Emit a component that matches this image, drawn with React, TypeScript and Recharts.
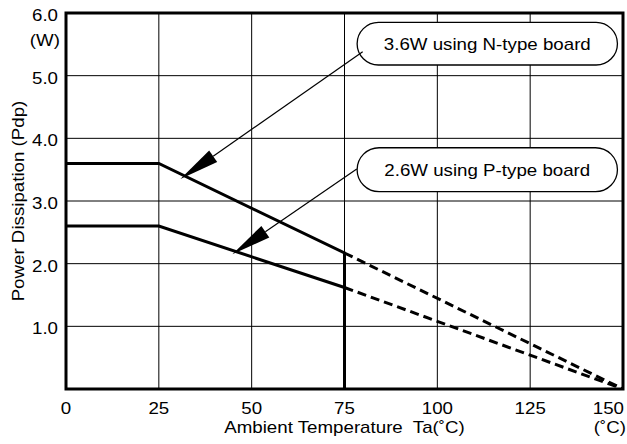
import React from 'react';
import { LineChart, Line, XAxis, YAxis, CartesianGrid, ReferenceArea, ReferenceLine, Label } from 'recharts';

// ---- data ----
const xTicks = [0, 25, 50, 75, 100, 125, 150];
const yTicks = [1, 2, 3, 4, 5, 6];

const nSolidT = [0, 25, 75, 75];
const nSolidP = [3.6, 3.6, 2.17, 0];
const nDashT = [75, 150];
const nDashP = [2.17, 0];

const pSolidT = [0, 25, 75];
const pSolidP = [2.6, 2.6, 1.62];
const pDashT = [75, 150];
const pDashP = [1.62, 0];

const calloutLabels = ['3.6W using N-type board', '2.6W using P-type board'];
const calloutT1 = [78.4, 78.4];
const calloutT2 = [148.5, 148.5];
const calloutP1 = [5.17, 3.15];
const calloutP2 = [5.85, 3.85];
const arrowTipT = [30.8, 44.8];
const arrowTipP = [3.35, 2.15];
const arrowTailT = [79.9, 78.3];
const arrowTailP = [5.38, 3.51];

const xTitle = 'Ambient Temperature\u00A0 Ta(\u02DAC)';
const yTitle = 'Power Dissipation (Pdp)';
const yUnit = '(W)';
const xUnit = '(\u02DAC)';

const toRows = (ts: number[], ps: number[]) => ts.map((t, i) => ({ t, p: ps[i] }));

const nSolid = toRows(nSolidT, nSolidP);
const nDash = toRows(nDashT, nDashP);
const pSolid = toRows(pSolidT, pSolidP);
const pDash = toRows(pDashT, pDashP);

const FONT = '"Liberation Sans", Arial, Helvetica, sans-serif';
const FS = 16;
const STRETCH = 1.17;

const SText = ({ x, y, anchor = 'start', rotate = 0, children }: any) => (
  <text
    transform={`translate(${x} ${y}) rotate(${rotate}) scale(${STRETCH} 1)`}
    x={0}
    y={0}
    textAnchor={anchor}
    fontFamily={FONT}
    fontSize={FS}
    fill="#000"
  >
    {children}
  </text>
);

const YTick = (props: any) => {
  const { x, y, payload } = props;
  return (
    <g>
      <SText x={x} y={y + 8} anchor="end">
        {Number(payload.value).toFixed(1)}
      </SText>
      {payload.value === 6 && (
        <SText x={x + 2} y={y + 33} anchor="end">
          {yUnit}
        </SText>
      )}
    </g>
  );
};

const XTick = (props: any) => {
  const { x, y, payload } = props;
  const last = payload.value === 150;
  return (
    <g>
      <SText x={last ? x + 1 : x} y={y + 13} anchor={last ? 'end' : 'middle'}>
        {payload.value}
      </SText>
      {last && (
        <SText x={x + 3} y={y + 32} anchor="end">
          {xUnit}
        </SText>
      )}
    </g>
  );
};

const Callout = (label: string) => (props: any) => {
  const { x, y, width, height } = props;
  const r = height / 2;
  return (
    <g>
      <rect x={x} y={y} width={width} height={height} rx={r} ry={r} fill="#fff" stroke="#000" strokeWidth={1.3} />
      <SText x={x + width / 2} y={y + height / 2 + 6} anchor="middle">
        {label}
      </SText>
    </g>
  );
};

const Arrow = (props: any) => {
  const { x1, y1, x2, y2 } = props;
  // (x1,y1) is the tip, (x2,y2) the tail
  const dx = x2 - x1;
  const dy = y2 - y1;
  const len = Math.sqrt(dx * dx + dy * dy) || 1;
  const ux = dx / len;
  const uy = dy / len;
  const headLen = 40;
  const halfW = 7;
  const bx = x1 + ux * headLen;
  const by = y1 + uy * headLen;
  const px = -uy;
  const py = ux;
  return (
    <g>
      <line x1={bx} y1={by} x2={x2} y2={y2} stroke="#000" strokeWidth={1.2} />
      <polygon
        points={`${x1},${y1} ${bx + px * halfW},${by + py * halfW} ${bx - px * halfW},${by - py * halfW}`}
        fill="#000"
      />
    </g>
  );
};

export default function App() {
  return (
    <div style={{ position: 'absolute', left: 0, top: 0, width: 627, height: 444, background: '#fff' }}>
      <LineChart width={627} height={444} margin={{ top: 13, right: 4, bottom: 14, left: 6 }}>
        <CartesianGrid stroke="#000" strokeWidth={1} />
        <XAxis
          type="number"
          dataKey="t"
          domain={[0, 150]}
          ticks={xTicks}
          height={41}
          axisLine={false}
          tickLine={false}
          tickSize={0}
          tickMargin={12}
          tick={<XTick />}
          interval={0}
          allowDataOverflow
        >
          <Label
            content={(p: any) => {
              const vb = p.viewBox;
              return (
                <SText x={vb.x + vb.width / 2} y={433} anchor="middle">
                  {xTitle}
                </SText>
              );
            }}
          />
        </XAxis>
        <YAxis
          type="number"
          domain={[0, 6]}
          ticks={yTicks}
          width={60}
          axisLine={false}
          tickLine={false}
          tickSize={0}
          tickMargin={8}
          tick={<YTick />}
          interval={0}
          allowDataOverflow
        >
          <Label
            content={(p: any) => {
              const vb = p.viewBox;
              const cy = vb.y + vb.height / 2;
              return (
                <SText x={24} y={cy} rotate={-90} anchor="middle">
                  {yTitle}
                </SText>
              );
            }}
          />
        </YAxis>

        <Line data={nSolid} dataKey="p" stroke="#000" strokeWidth={3} dot={false} isAnimationActive={false} strokeLinejoin="miter" />
        <Line data={nDash} dataKey="p" stroke="#000" strokeWidth={3} strokeDasharray="9 5" dot={false} isAnimationActive={false} />
        <Line data={pSolid} dataKey="p" stroke="#000" strokeWidth={3} dot={false} isAnimationActive={false} />
        <Line data={pDash} dataKey="p" stroke="#000" strokeWidth={3} strokeDasharray="9 5" dot={false} isAnimationActive={false} />

        <ReferenceArea x1={0} x2={150} y1={0} y2={6} fill="none" fillOpacity={0} stroke="#000" strokeWidth={3} />

        {calloutLabels.map((lab, i) => (
          <ReferenceLine
            key={'a' + i}
            segment={[
              { x: arrowTipT[i], y: arrowTipP[i] },
              { x: arrowTailT[i], y: arrowTailP[i] },
            ]}
            shape={Arrow}
            ifOverflow="visible"
          />
        ))}
        {calloutLabels.map((lab, i) => (
          <ReferenceArea
            key={'c' + i}
            x1={calloutT1[i]}
            x2={calloutT2[i]}
            y1={calloutP1[i]}
            y2={calloutP2[i]}
            shape={Callout(lab)}
            ifOverflow="visible"
          />
        ))}
      </LineChart>
    </div>
  );
}
